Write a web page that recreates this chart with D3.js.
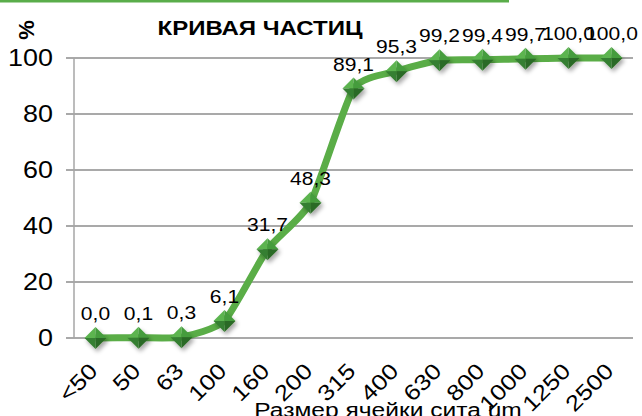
<!DOCTYPE html>
<html lang="ru">
<head>
<meta charset="UTF-8">
<title>Кривая частиц</title>
<script src="https://d3js.org/d3.v7.min.js"></script>
<style>
  body { margin: 0; background: #fff; }
  text { font-family: "Liberation Sans", Arial, sans-serif; fill: #000; }
</style>
</head>
<body>
<svg width="642" height="416"></svg>
<script>
const sizes = ['<50', '50', '63', '100', '160', '200', '315', '400', '630', '800', '1000', '1250', '2500'];
const passing = [0.0, 0.1, 0.3, 6.1, 31.7, 48.3, 89.1, 95.3, 99.2, 99.4, 99.7, 100.0, 100.0];
const yTicks = [0, 20, 40, 60, 80, 100];

const data = sizes.map((s, i) => ({ size: s, value: passing[i] }));

const svg = d3.select('svg');
const margin = { top: 58, right: 9, bottom: 78, left: 74 };
const width = 642, height = 416;
const sx = 1.17; // text in the picture is a bit wider than normal

const x = d3.scaleBand()
  .domain(sizes)
  .range([margin.left, width - margin.right]);

const y = d3.scaleLinear()
  .domain([0, 100])
  .range([height - margin.bottom, margin.top]);

const cx = d => x(d) + x.bandwidth() / 2;

// green strip at the top
svg.append('rect')
  .attr('x', 0).attr('y', 0)
  .attr('width', 509).attr('height', 2.5)
  .attr('fill', '#5aad4a');

// gridlines
svg.append('g')
  .selectAll('line')
  .data(yTicks)
  .join('line')
  .attr('x1', margin.left - 8)
  .attr('x2', width - margin.right)
  .attr('y1', d => y(d))
  .attr('y2', d => y(d))
  .attr('stroke', '#8c8c8c')
  .attr('stroke-width', 1.3);

// y axis line
svg.append('line')
  .attr('x1', margin.left).attr('x2', margin.left)
  .attr('y1', y(100)).attr('y2', y(0))
  .attr('stroke', '#a6a6a6')
  .attr('stroke-width', 1.5);

// y tick labels
svg.append('g')
  .selectAll('text')
  .data(yTicks)
  .join('text')
  .attr('transform', d => `translate(${margin.left - 21},${y(d)}) scale(${sx},1)`)
  .attr('dy', '0.36em')
  .attr('text-anchor', 'end')
  .style('font-size', '23px')
  .text(d => d);

// x tick labels
svg.append('g')
  .selectAll('text')
  .data(sizes)
  .join('text')
  .attr('transform', d => `translate(${cx(d) - 2},${y(0) + 29}) rotate(-45) scale(${sx},1)`)
  .attr('text-anchor', 'end')
  .attr('dy', '0.35em')
  .style('font-size', '22px')
  .text(d => d);

// the curve (smoothed like the spreadsheet line)
const line = d3.line()
  .x(d => cx(d.size))
  .y(d => y(d.value))
  .curve(d3.curveCardinal.tension(0.45));

const defs = svg.append('defs');
const f = defs.append('filter').attr('id', 'shadow')
  .attr('x', '-50%').attr('y', '-50%').attr('width', '200%').attr('height', '200%');
f.append('feDropShadow')
  .attr('dx', 2).attr('dy', 3).attr('stdDeviation', 2)
  .attr('flood-color', '#000').attr('flood-opacity', 0.35);

svg.append('path')
  .datum(data)
  .attr('d', line)
  .attr('fill', 'none')
  .attr('stroke', '#5aad47')
  .attr('stroke-width', 7)
  .attr('stroke-linejoin', 'round');

// diamond markers, four shaded facets
const r = 11;
const facets = [
  { pts: [[0, 0], [-r, 0], [0, -r]], fill: '#5bb44f' },
  { pts: [[0, 0], [0, -r], [r, 0]], fill: '#449c3c' },
  { pts: [[0, 0], [r, 0], [0, r]], fill: '#2a6a26' },
  { pts: [[0, 0], [0, r], [-r, 0]], fill: '#367f31' }
];

const markers = svg.append('g')
  .selectAll('g')
  .data(data)
  .join('g')
  .attr('transform', d => `translate(${cx(d.size)},${y(d.value)})`)
  .attr('filter', 'url(#shadow)');

markers.selectAll('polygon')
  .data(facets)
  .join('polygon')
  .attr('points', d => d.pts.map(p => p.join(',')).join(' '))
  .attr('fill', d => d.fill);

// data labels
svg.append('g')
  .selectAll('text')
  .data(data)
  .join('text')
  .attr('transform', d => `translate(${cx(d.size)},${y(d.value) - 18}) scale(${sx},1)`)
  .attr('text-anchor', 'middle')
  .style('font-size', '18px')
  .text(d => d.value.toFixed(1).replace('.', ','));

// title
svg.append('text')
  .attr('transform', `translate(260,35) scale(1.2,1)`)
  .attr('text-anchor', 'middle')
  .style('font-size', '20px')
  .style('font-weight', 'bold')
  .text('КРИВАЯ  ЧАСТИЦ');

// y axis title
svg.append('text')
  .attr('transform', 'translate(34,30) rotate(-90)')
  .attr('text-anchor', 'middle')
  .style('font-size', '22px')
  .style('font-weight', 'bold')
  .text('%');

// x axis title
svg.append('text')
  .attr('transform', `translate(388,417) scale(${sx},1)`)
  .attr('text-anchor', 'middle')
  .style('font-size', '21px')
  .text('Размер ячейки сита um');
</script>
</body>
</html>
